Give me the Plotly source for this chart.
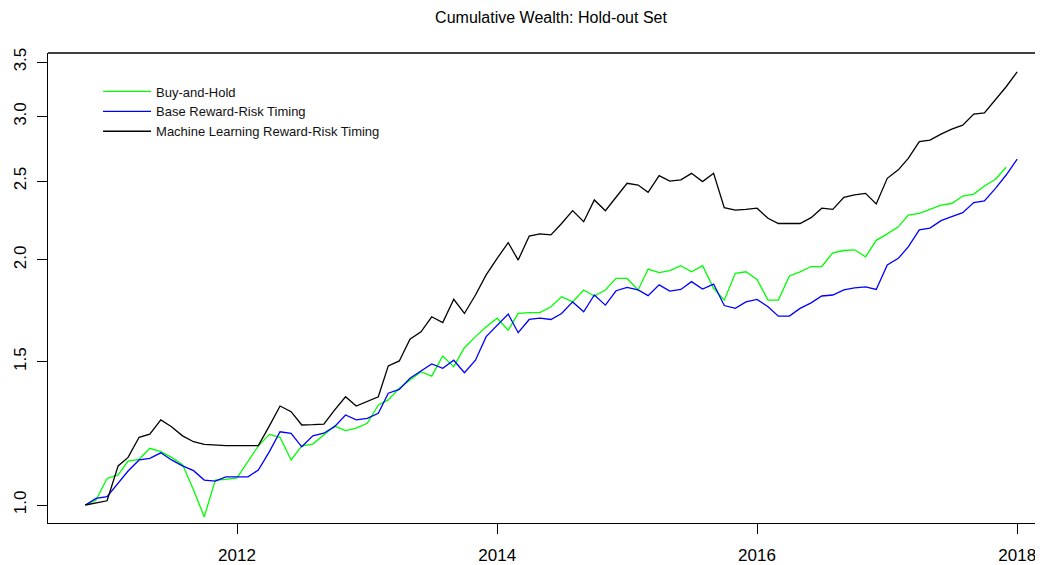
import pandas as pd
import plotly.graph_objects as go

# ---- data (monthly, Nov 2010 .. Jan 2018) ----
dates = pd.date_range("2010-11-01", periods=87, freq="MS")

buy_and_hold = [
    1.000, 1.014, 1.078, 1.089, 1.132, 1.138, 1.174, 1.163, 1.144, 1.121, 1.043, 0.967, 1.073,
    1.075, 1.080, 1.130, 1.182, 1.221, 1.211, 1.136, 1.182, 1.188, 1.219, 1.250, 1.234,
    1.243, 1.260, 1.327, 1.346, 1.391, 1.424, 1.458, 1.440, 1.524, 1.479, 1.560,
    1.610, 1.656, 1.696, 1.640, 1.719, 1.723, 1.723, 1.752, 1.802, 1.776, 1.837, 1.806,
    1.837, 1.898, 1.898, 1.837, 1.949, 1.929, 1.940, 1.968, 1.934, 1.968, 1.846, 1.785,
    1.926, 1.934, 1.893, 1.785, 1.785, 1.911, 1.934, 1.963, 1.963, 2.041, 2.054, 2.058,
    2.018, 2.114, 2.153, 2.196, 2.271, 2.281, 2.307, 2.335, 2.346, 2.396, 2.409, 2.465,
    2.513, 2.599,
]

base_timing = [
    1.000, 1.019, 1.024, 1.063, 1.101, 1.136, 1.141, 1.159, 1.136, 1.117, 1.102, 1.073, 1.070,
    1.083, 1.083, 1.083, 1.104, 1.163, 1.230, 1.225, 1.179, 1.216, 1.225, 1.248, 1.290,
    1.272, 1.278, 1.296, 1.372, 1.387, 1.431, 1.462, 1.490, 1.472, 1.506, 1.454,
    1.506, 1.610, 1.664, 1.716, 1.628, 1.690, 1.696, 1.690, 1.719, 1.776, 1.727, 1.811,
    1.760, 1.833, 1.851, 1.837, 1.808, 1.864, 1.831, 1.840, 1.881, 1.842, 1.868, 1.758,
    1.744, 1.776, 1.789, 1.752, 1.706, 1.706, 1.744, 1.771, 1.806, 1.811, 1.837, 1.848,
    1.853, 1.840, 1.972, 2.009, 2.075, 2.178, 2.188, 2.235, 2.260, 2.286, 2.352, 2.364,
    2.449, 2.543, 2.659,
]

ml_timing = [
    1.000, 1.005, 1.012, 1.117, 1.144, 1.211, 1.222, 1.272, 1.248, 1.216, 1.196, 1.187, 1.184,
    1.183, 1.183, 1.183, 1.183, 1.251, 1.323, 1.302, 1.254, 1.255, 1.257, 1.308, 1.358,
    1.323, 1.339, 1.358, 1.482, 1.503, 1.598, 1.632, 1.703, 1.675, 1.789, 1.719,
    1.811, 1.917, 2.009, 2.100, 1.999, 2.140, 2.153, 2.147, 2.217, 2.299, 2.228, 2.370,
    2.299, 2.392, 2.484, 2.472, 2.421, 2.538, 2.500, 2.508, 2.555, 2.496, 2.555, 2.319,
    2.303, 2.307, 2.315, 2.250, 2.217, 2.217, 2.217, 2.254, 2.315, 2.307, 2.387, 2.404,
    2.414, 2.343, 2.519, 2.580, 2.666, 2.794, 2.807, 2.855, 2.896, 2.928, 3.021, 3.031,
    3.150, 3.264, 3.404,
]

series_names = ["Buy-and-Hold", "Base Reward-Risk Timing", "Machine Learning Reward-Risk Timing"]
series_colors = ["#00ff00", "#0000ff", "#000000"]

x_tick_vals = ["2012-01-01", "2014-01-01", "2016-01-01", "2018-01-01"]
x_tick_text = ["2012", "2014", "2016", "2018"]
y_tick_vals = [1.0, 1.5, 2.0, 2.5, 3.0, 3.5]
y_tick_text = ["1.0", "1.5", "2.0", "2.5", "3.0", "3.5"]

FONT = "Arial, Liberation Sans, sans-serif"

fig = go.Figure()
for name, vals, col in zip(series_names, [buy_and_hold, base_timing, ml_timing], series_colors):
    fig.add_trace(go.Scatter(
        x=dates[:len(vals)], y=vals, mode="lines", name=name,
        line=dict(color=col, width=1.3),
    ))

# the page body adds an 8px offset; margins compensate for it
fig.update_layout(
    width=1043, height=565,
    margin=dict(l=40, r=0, t=45, b=50, autoexpand=False),
    paper_bgcolor="white", plot_bgcolor="white",
    font=dict(family=FONT, color="black"),
    title=dict(text="Cumulative Wealth: Hold-out Set", x=543 / 1043, xref="container",
               xanchor="center", y=1 - 9 / 565, yref="container", yanchor="middle",
               font=dict(size=16, family=FONT, color="black")),
    showlegend=True,
    legend=dict(x=0.0499, y=0.950, xanchor="left", yanchor="top",
                bgcolor="rgba(0,0,0,0)", borderwidth=0,
                font=dict(size=13, family=FONT, color="#111111"),
                itemwidth=48, tracegroupgap=0),
    xaxis=dict(type="date", range=["2010-07-19", "2018-04-06"],
               tickvals=x_tick_vals, ticktext=x_tick_text, automargin=False,
               showgrid=False, zeroline=False, showline=True, linecolor="black",
               linewidth=1.3, ticks="outside", ticklen=10, tickwidth=1.3,
               tickcolor="black", ticklabelstandoff=6,
               tickfont=dict(size=17, family=FONT, color="black")),
    yaxis=dict(type="log", range=[-0.02211, 0.5552], automargin=False,
               tickvals=y_tick_vals, ticktext=y_tick_text, tickangle=-90,
               showgrid=False, zeroline=False, showline=True, linecolor="black",
               linewidth=1.3, ticks="outside", ticklen=10, tickwidth=1.3,
               tickcolor="black", ticklabelstandoff=4,
               tickfont=dict(size=17, family=FONT, color="black")),
    shapes=[dict(type="line", xref="paper", yref="paper", x0=0, x1=1, y0=1, y1=1,
                 line=dict(color="black", width=1.3))],
)

fig.write_html("out.html")
